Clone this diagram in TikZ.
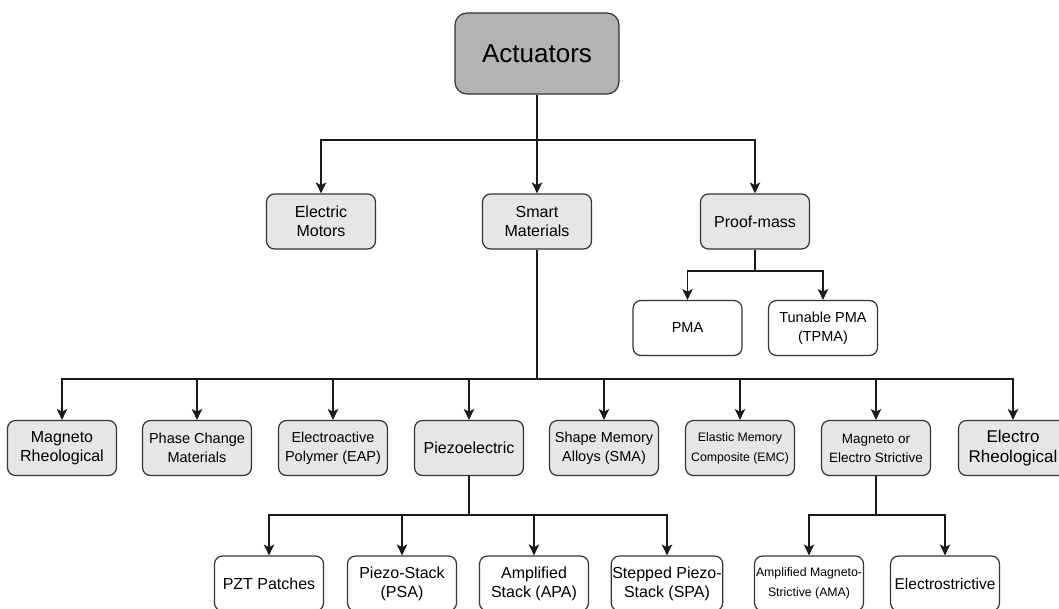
\documentclass[tikz,border=0pt]{standalone}
\usepackage{fontspec}
\setmainfont{Liberation Sans}
\usetikzlibrary{arrows.meta}
\definecolor{edgecol}{HTML}{1A1A1A}
\definecolor{bordercol}{HTML}{333333}
\definecolor{catfill}{HTML}{E6E6E6}
\definecolor{rootfill}{HTML}{B3B3B3}
\begin{document}
\begin{tikzpicture}[x=1pt,y=-1pt,
  basebox/.style={draw=bordercol, line width=1.2pt, rounded corners=8pt,
    minimum width=109pt, minimum height=55pt, align=center, inner sep=1pt,
    text=black, font=\fontsize{16}{19}\selectfont},
  catbox/.style={basebox, fill=catfill},
  leafbox/.style={basebox, fill=white},
  rootbox/.style={basebox, fill=rootfill, minimum width=164pt, minimum height=81pt,
    rounded corners=12pt, font=\fontsize{26}{30}\selectfont},
  fsmall/.style={font=\fontsize{12.3}{20}\selectfont},
  fmid/.style={font=\fontsize{14.5}{19}\selectfont},
  fbig/.style={font=\fontsize{17}{20}\selectfont},
  ln/.style={draw=edgecol, line width=1.1pt},
  thick ln/.style={draw=edgecol, line width=1.7pt},
  arr/.style={ln, -{Stealth[length=11pt,width=10.5pt,inset=2.8pt]}},
  thick arr/.style={thick ln, -{Stealth[length=11pt,width=10.5pt,inset=2.8pt]}},
]
\useasboundingbox (0,0) rectangle (1059,608);

% root
\node[rootbox] (act) at (537,53.5) {Actuators};

% first level
\node[catbox] (em) at (321,221.5) {Electric\\Motors};
\node[catbox] (sm) at (537,221.5) {Smart\\Materials};
\node[catbox] (pm) at (755,221.5) {Proof-mass};

% proof-mass branch
\node[leafbox, fmid] (pma) at (687.5,328) {PMA};
\node[leafbox, fmid] (tpma) at (823,328) {Tunable PMA\\(TPMA)};

% smart materials
\node[catbox] (mr)  at (62,448)         {Magneto\\Rheological};
\node[catbox, fmid] (pcm) at (197,448)  {Phase Change\\Materials};
\node[catbox, fmid] (eap) at (333,448)  {Electroactive\\Polymer (EAP)};
\node[catbox] (pz)  at (469,448)        {Piezoelectric};
\node[catbox, fmid] (sma) at (604,448)  {Shape Memory\\Alloys (SMA)};
\node[catbox, fsmall] (emc) at (740,448) {Elastic Memory\\Composite (EMC)};
\node[catbox, font=\fontsize{13.5}{19}\selectfont] (mes) at (876,448) {Magneto or\\Electro Strictive};
\node[catbox, fbig] (er) at (1013,448)  {Electro\\Rheological};

% piezoelectric branch
\node[leafbox] (pzt) at (269,583.5) {PZT Patches};
\node[leafbox] (psa) at (402,583.5) {Piezo-Stack\\(PSA)};
\node[leafbox] (apa) at (534,583.5) {Amplified\\Stack (APA)};
\node[leafbox] (spa) at (667,583.5) {Stepped Piezo-\\Stack (SPA)};

% strictive branch
\node[leafbox, fsmall] (ama) at (809,583.5) {Amplified Magneto-\\Strictive (AMA)};
\node[leafbox, font=\fontsize{15.5}{19}\selectfont] (est) at (945,583.5) {Electrostrictive};

% junction points
\coordinate (j1) at (537,140);
\coordinate (j2) at (537,379);
\coordinate (j3) at (469,515);
\coordinate (j4) at (876,515);
\coordinate (j5) at (755,271);

% connectors
\draw[thick arr] (act.south) -- (sm.north);
\draw[arr] (j1) -| (em.north);
\draw[arr] (j1) -| (pm.north);

\draw[ln] (pm.south) -- (j5);
\draw[arr] (j5) -| (pma.north);
\draw[arr] (j5) -| (tpma.north);

\draw[ln] (sm.south) -- (j2);
\draw[arr] (j2) -| (mr.north);
\draw[arr] (j2) -| (pcm.north);
\draw[arr] (j2) -| (eap.north);
\draw[arr] (j2) -| (pz.north);
\draw[arr] (j2) -| (sma.north);
\draw[arr] (j2) -| (emc.north);
\draw[arr] (j2) -| (mes.north);
\draw[arr] (j2) -| (er.north);

\draw[ln] (pz.south) -- (j3);
\draw[arr] (j3) -| (pzt.north);
\draw[arr] (j3) -| (psa.north);
\draw[arr] (j3) -| (apa.north);
\draw[arr] (j3) -| (spa.north);

\draw[thick ln] (mes.south) -- (j4);
\draw[arr] (j4) -| (ama.north);
\draw[arr] (j4) -| (est.north);
\end{tikzpicture}
\end{document}
